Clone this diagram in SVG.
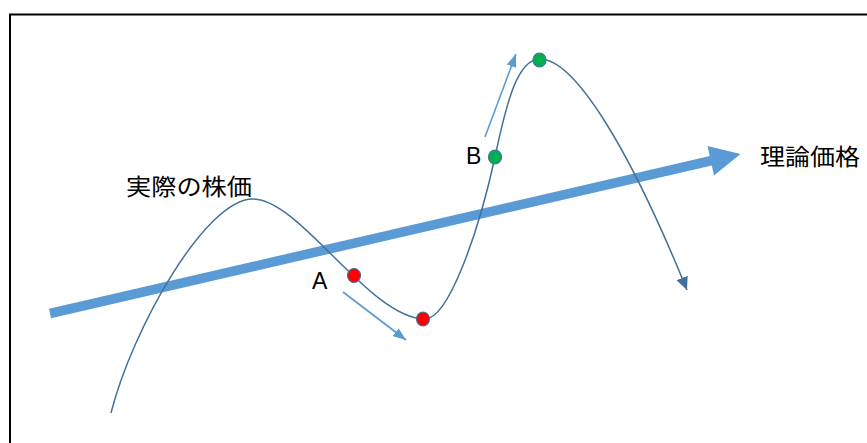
<svg xmlns="http://www.w3.org/2000/svg" width="867" height="443" viewBox="0 0 867 443">
<style>
.lbl{font-family:"Liberation Sans","Noto Sans CJK JP",sans-serif;fill:#000}
.jp{font-family:"Noto Sans CJK JP","Liberation Sans",sans-serif;fill:#000;font-size:23px}
.dot{stroke:#41719C;stroke-width:1.2}
.small{stroke:#5B9BD5;stroke-width:1.6;fill:none}
</style>
<defs>
<marker id="mSmall" markerUnits="userSpaceOnUse" markerWidth="14" markerHeight="10" refX="13" refY="5" orient="auto">
<path d="M0,0 L13,5 L0,10 Z" fill="#5B9BD5"/>
</marker>
<marker id="mDark" markerUnits="userSpaceOnUse" markerWidth="14" markerHeight="12" refX="13" refY="6" orient="auto">
<path d="M0,0 L13,6 L0,12 Z" fill="#41719C"/>
</marker>
</defs>
<rect width="867" height="443" fill="#fff"/>
<path d="M10,443 V14.5 H867" fill="none" stroke="#000" stroke-width="2"/>
<g id="connectors">
<g id="theory-arrow">
<line x1="50" y1="313.5" x2="712" y2="160.5" stroke="#5B9BD5" stroke-width="9.5"/>
<polygon points="707.5,146 740.5,154 714,175.5" fill="#5B9BD5"/>
</g>
<path id="price-curve" d="M111,413 C132,330 205,199 253,199 C300,199 370,319 425,319 C448,319 478,235 495,157 C507,100 518,59 540,59 C575,59 630,150 687,290" fill="none" stroke="#41719C" stroke-width="1.5" marker-end="url(#mDark)"/>
<line id="arrow-a" class="small" x1="343" y1="292" x2="406" y2="340" marker-end="url(#mSmall)"/>
<line id="arrow-b" class="small" x1="485" y1="137" x2="516" y2="54" marker-end="url(#mSmall)"/>
</g>
<g id="point-a"><ellipse class="dot" cx="354" cy="275.5" rx="6.5" ry="7" fill="#FF0000"/></g>
<g id="point-min"><ellipse class="dot" cx="423" cy="319" rx="6.5" ry="7" fill="#FF0000"/></g>
<g id="point-b"><ellipse class="dot" cx="495" cy="157" rx="6.5" ry="7" fill="#00B050"/></g>
<g id="point-top"><ellipse class="dot" cx="539.5" cy="60" rx="6.5" ry="7" fill="#00B050"/></g>
<g id="label-actual"><text class="jp" x="126" y="195" textLength="126" lengthAdjust="spacingAndGlyphs">実際の株価</text></g>
<g id="label-theory"><text class="jp" x="760" y="165" textLength="100" lengthAdjust="spacingAndGlyphs">理論価格</text></g>
<g id="label-a"><text class="lbl" x="312" y="288.5" font-size="23">A</text></g>
<g id="label-b"><text class="lbl" x="466" y="164" font-size="23">B</text></g>
</svg>
